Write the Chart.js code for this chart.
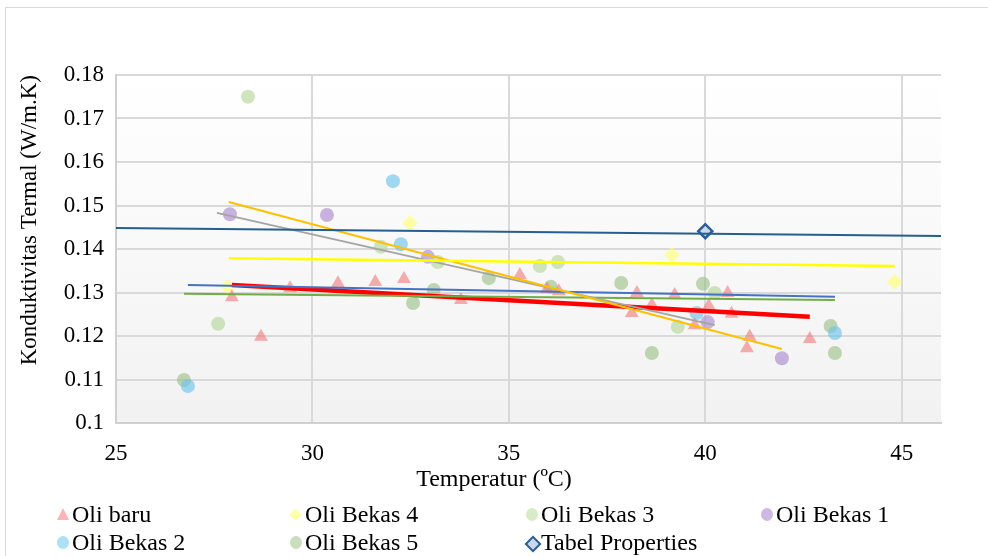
<!DOCTYPE html>
<html>
<head>
<meta charset="utf-8">
<script src="https://cdn.jsdelivr.net/npm/chart.js@4.4.1/dist/chart.umd.min.js"></script>
<style>
  html, body { margin:0; padding:0; background:#fff; }
  #wrap { position:relative; width:988px; height:556px; overflow:hidden; }
  #frame { position:absolute; left:5px; top:7px; width:1000px; height:600px; border-left:1px solid #D9D9D9; border-top:1px solid #D9D9D9; }
  canvas { position:absolute; left:0; top:0; }
  .lg { position:absolute; font-family:"Liberation Serif","Times New Roman",serif; font-size:24px; color:#000; line-height:26px; white-space:nowrap; }
  .mk { position:absolute; }
</style>
</head>
<body>
<div id="wrap">
  <div id="frame"></div>
  <canvas id="c" width="988" height="556"></canvas>
  <div id="legend"></div>
</div>
<script>
// ---- data ----
const xTicks = [25, 30, 35, 40, 45];
const yTicks = [0.1, 0.11, 0.12, 0.13, 0.14, 0.15, 0.16, 0.17, 0.18];
const xTitle = 'Temperatur (ºC)';
const yTitle = 'Konduktivitas Termal (W/m.K)';

const oliBaruX = [27.95, 28.69, 29.43, 30.65, 31.6, 32.33, 33.78, 35.28, 35.97, 36.27, 38.13, 38.26, 38.64, 39.22, 39.73, 40.09, 40.57, 40.67, 41.13, 41.06, 42.66];
const oliBaruY = [0.1289, 0.1198, 0.131, 0.1321, 0.1324, 0.1331, 0.1283, 0.134, 0.1308, 0.1303, 0.1253, 0.1299, 0.1271, 0.1294, 0.1225, 0.1269, 0.1299, 0.1251, 0.1198, 0.1172, 0.1193];

const bekas4X = [27.85, 32.48, 39.15, 44.82];
const bekas4Y = [0.1313, 0.146, 0.1386, 0.1324];

const bekas3X = [28.36, 27.6, 31.74, 33.19, 35.79, 36.25, 39.3, 40.24];
const bekas3Y = [0.175, 0.1228, 0.1405, 0.137, 0.1361, 0.137, 0.1221, 0.1299];

const bekas1X = [27.9, 30.37, 32.94, 40.06, 41.95];
const bekas1Y = [0.148, 0.1478, 0.1382, 0.1232, 0.1149];

const bekas2X = [26.83, 32.05, 32.25, 39.78, 43.3];
const bekas2Y = [0.1085, 0.1556, 0.1411, 0.1253, 0.1207];

const bekas5X = [26.73, 32.56, 33.09, 34.49, 36.07, 37.86, 38.64, 39.94, 43.19, 43.3];
const bekas5Y = [0.1099, 0.1276, 0.1306, 0.1333, 0.1313, 0.1322, 0.1161, 0.132, 0.1223, 0.1161];

const tabelX = [40];
const tabelY = [0.1441];

// trendline end points [x0, x1], [y0, y1]
const trendTabelX = [25, 46],        trendTabelY = [0.1448, 0.143];
const trendBekas4X = [27.87, 44.82], trendBekas4Y = [0.1379, 0.1361];
const trendBekas1X = [27.87, 41.95], trendBekas1Y = [0.1508, 0.117];
const trendBekas3X = [27.57, 40.24], trendBekas3Y = [0.1483, 0.1225];
const trendBekas2X = [26.83, 43.3],  trendBekas2Y = [0.1317, 0.129];
const trendBekas5X = [26.73, 43.3],  trendBekas5Y = [0.1297, 0.1283];
const trendBaruX = [27.95, 42.66],   trendBaruY = [0.1317, 0.1244];

const zip = (xs, ys) => xs.map((x, i) => ({x, y: ys[i]}));
const FONT = '"Liberation Serif","Times New Roman",serif';

function scatter(label, xs, ys, style, color, border, radius, bw) {
  return { type:'scatter', label, data: zip(xs, ys), pointStyle: style,
    backgroundColor: color, borderColor: border, borderWidth: bw || 0,
    pointRadius: radius, pointHoverRadius: radius, order: 2, showLine:false };
}
function trend(xs, ys, color, w) {
  return { type:'line', label:'', data: zip(xs, ys), borderColor: color, borderWidth: w,
    pointRadius: 0, fill:false, order: 1, tension: 0 };
}

const bgPlugin = {
  id:'bg',
  beforeDraw(chart) {
    const {ctx, chartArea:a} = chart;
    const g = ctx.createLinearGradient(0, a.top, 0, a.bottom);
    g.addColorStop(0, '#FFFFFF');
    g.addColorStop(1, '#F2F2F2');
    ctx.save(); ctx.fillStyle = g; ctx.fillRect(a.left, a.top, a.right - a.left, a.bottom - a.top); ctx.restore();
  },
  afterDraw(chart) {
    // x-axis title, centred on the whole chart as in the reference
    const {ctx, width} = chart;
    ctx.save();
    ctx.font = '24px ' + FONT;
    ctx.fillStyle = '#000';
    ctx.textAlign = 'center';
    ctx.textBaseline = 'middle';
    ctx.fillText(xTitle, width / 2, 480);
    ctx.restore();
  }
};

new Chart(document.getElementById('c'), {
  data: { datasets: [
    scatter('Oli baru', oliBaruX, oliBaruY, 'triangle', 'rgba(240,120,120,0.6)', 'rgba(0,0,0,0)', 8),
    scatter('Oli Bekas 4', bekas4X, bekas4Y, 'rectRot', 'rgba(255,255,110,0.6)', 'rgba(0,0,0,0)', 8),
    scatter('Oli Bekas 3', bekas3X, bekas3Y, 'circle', 'rgba(180,215,155,0.65)', 'rgba(0,0,0,0)', 7),
    scatter('Oli Bekas 1', bekas1X, bekas1Y, 'circle', 'rgba(170,140,205,0.65)', 'rgba(0,0,0,0)', 7),
    scatter('Oli Bekas 2', bekas2X, bekas2Y, 'circle', 'rgba(110,195,235,0.65)', 'rgba(0,0,0,0)', 7),
    scatter('Oli Bekas 5', bekas5X, bekas5Y, 'circle', 'rgba(150,190,130,0.6)', 'rgba(0,0,0,0)', 7),
    scatter('Tabel Properties', tabelX, tabelY, 'rectRot', '#C9D8EE', '#2E5D92', 7, 2.5),
    trend(trendTabelX, trendTabelY, '#255E91', 2),
    trend(trendBekas4X, trendBekas4Y, '#FFFF00', 2.5),
    trend(trendBekas1X, trendBekas1Y, '#FFC000', 2),
    trend(trendBekas3X, trendBekas3Y, '#A5A5A5', 2),
    trend(trendBekas2X, trendBekas2Y, '#4472C4', 2),
    trend(trendBekas5X, trendBekas5Y, '#70AD47', 2),
    trend(trendBaruX, trendBaruY, '#FF0000', 4.5)
  ]},
  options: {
    responsive:false, animation:false,
    layout: { padding: { top: 75, right: 47, left: 0, bottom: 60 } },
    plugins: { legend: { display:false }, tooltip: { enabled:false } },
    scales: {
      x: { type:'linear', min:25, max:46,
        afterBuildTicks: s => { s.ticks = xTicks.map(v => ({value:v})); },
        afterFit: s => { s.height = 73; },
        grid: { color:'#D9D9D9', lineWidth:2, drawTicks:false },
        border: { color:'#D0D0D0', width:2 },
        ticks: { color:'#000', font:{ family:FONT, size:23 }, padding:17, callback: v => String(v) },
        title: { display:false }
      },
      y: { type:'linear', min:0.1, max:0.18,
        afterBuildTicks: s => { s.ticks = yTicks.map(v => ({value:v})); },
        afterFit: s => { s.width = 116; },
        grid: { color:'#D9D9D9', lineWidth:2, drawTicks:false },
        border: { color:'#D0D0D0', width:2 },
        ticks: { color:'#000', font:{ family:FONT, size:23 }, padding:12, callback: v => String(parseFloat(v.toFixed(2))) },
        title: { display:true, text:yTitle, align:'end', color:'#000', font:{ family:FONT, size:23 }, padding:{top:16,bottom:0} }
      }
    }
  },
  plugins: [bgPlugin]
});

// ---- HTML legend ----
const legendItems = [
  { label:'Oli baru', shape:'tri', color:'#FFB3B3', col:0, row:0 },
  { label:'Oli Bekas 4', shape:'dia', color:'#FFFFA8', col:1, row:0 },
  { label:'Oli Bekas 3', shape:'cir', color:'#D8EBC8', col:2, row:0 },
  { label:'Oli Bekas 1', shape:'cir', color:'#CDB9E2', col:3, row:0 },
  { label:'Oli Bekas 2', shape:'cir', color:'#ABE0F5', col:0, row:1 },
  { label:'Oli Bekas 5', shape:'cir', color:'#C9DEBE', col:1, row:1 },
  { label:'Tabel Properties', shape:'tab', color:'#C9D8EE', col:2, row:1 }
];
const colX = [63, 296, 532, 767];
const rowY = [515, 543];
const lg = document.getElementById('legend');
legendItems.forEach(it => {
  const cx = colX[it.col], cy = rowY[it.row];
  const m = document.createElement('div');
  m.className = 'mk';
  if (it.shape === 'tri') {
    m.style.cssText = `left:${cx-6}px;top:${cy-7}px;width:0;height:0;border-left:6px solid transparent;border-right:6px solid transparent;border-bottom:12px solid ${it.color};`;
  } else if (it.shape === 'cir') {
    m.style.cssText = `left:${cx-6}px;top:${cy-7}px;width:12px;height:13px;border-radius:50%;background:${it.color};`;
  } else if (it.shape === 'dia') {
    m.style.cssText = `left:${cx-5}px;top:${cy-5}px;width:9px;height:9px;transform:rotate(45deg);background:${it.color};`;
  } else {
    m.style.cssText = `left:${cx-5}px;top:${cy-5}px;width:8px;height:8px;transform:rotate(45deg);background:${it.color};border:2px solid #2E5D92;`;
  }
  lg.appendChild(m);
  const t = document.createElement('div');
  t.className = 'lg';
  t.textContent = it.label;
  t.style.left = (cx + 9) + 'px';
  t.style.top = (cy - 14) + 'px';
  lg.appendChild(t);
});
</script>
</body>
</html>
